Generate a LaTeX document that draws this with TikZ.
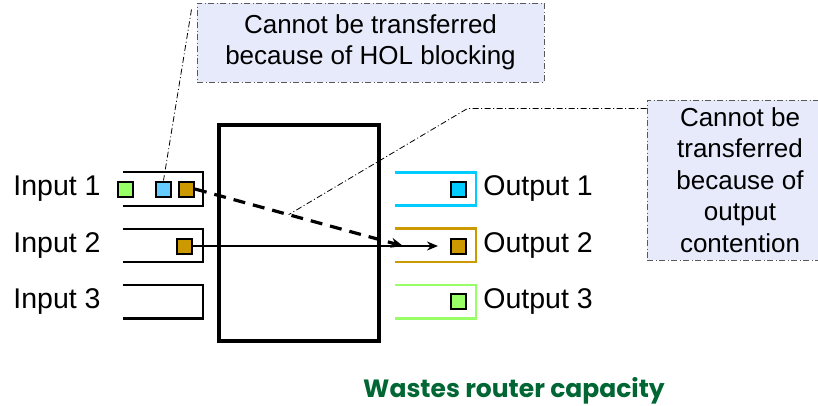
\documentclass[tikz,border=0pt]{standalone}
\usepackage{fontspec}
\setmainfont{Liberation Sans}
\newfontfamily\notefont{Poppins}
\usetikzlibrary{positioning,arrows.meta}

\definecolor{pktgreen}{HTML}{99FF66}
\definecolor{pktblue}{HTML}{66CCFF}
\definecolor{outcyan}{HTML}{00CCFF}
\definecolor{gold}{HTML}{CC9900}
\definecolor{notebg}{HTML}{E6EAFA}
\definecolor{darkgreen}{HTML}{006633}

\begin{document}
\begin{tikzpicture}[x=1pt, y=-1pt, node distance=23pt,
  queue/.style = {minimum width=80pt, minimum height=33pt, inner sep=0},
  pkt/.style = {draw, line width=2pt, minimum size=15pt, inner sep=0},
  lbl/.style = {inner sep=0, font=\fontsize{28.5}{30}\selectfont},
  dashdot/.style = {dash pattern=on 6pt off 2.5pt on 1pt off 2.5pt},
  note/.style = {draw=black!65, fill=notebg, dashdot, line width=1pt, align=center,
    inner sep=0, font=\fontsize{26}{31.5}\selectfont},
  lead/.style = {dashdot, line width=0.8pt}]

\useasboundingbox (0,0) rectangle (818,405);

% switch
\node[draw, line width=4pt, minimum width=160pt, minimum height=216pt] (sw) at (299,233) {};

% input and output queues
\node[queue] (q1) at (163,189) {};
\node[queue] (q2) [below=of q1] {};
\node[queue] (q3) [below=of q2] {};
\node[queue, minimum width=81pt] (o1) at (435.5,189) {};
\node[queue, minimum width=81pt] (o2) [below=of o1] {};
\node[queue, minimum width=81pt] (o3) [below=of o2] {};

\foreach \q in {q1,q2,q3}
  \draw[line width=2.3pt] (\q.north west) -- (\q.north east) -- (\q.south east) -- (\q.south west);
\foreach \q/\c in {o1/outcyan, o2/gold, o3/pktgreen}
  \draw[\c, line width=2.5pt] (\q.north west) -- (\q.north east) -- (\q.south east) -- (\q.south west);

\node[lbl, left=22pt of q1] {Input 1};
\node[lbl, left=22pt of q2] {Input 2};
\node[lbl, left=22pt of q3] {Input 3};
\node[lbl, right=7pt of o1] {Output 1};
\node[lbl, right=7pt of o2] {Output 2};
\node[lbl, right=7pt of o3] {Output 3};

% packets
\coordinate (dst) at (403,246);
\node[pkt, fill=pktgreen] (i1a) at (125,189) {};
\node[pkt, fill=pktblue] (i1b) at (163.5,189) {};
\node[pkt, fill=gold] (i1c) at (186.5,189) {};
\node[pkt, fill=gold] (i2) at (184,246) {};
\node[pkt, fill=outcyan] (p1) at (458.5,189) {};
\node[pkt, fill=gold] (p2) at (458.5,246) {};
\node[pkt, fill=pktgreen] (p3) at (458.5,301) {};

\draw[line width=1.8pt, -{Stealth[length=11pt, width=9pt]}, shorten >=12pt] (i2.east) -- (p2.west);
\draw[line width=3.2pt, dash pattern=on 12pt off 8pt, -{Stealth[length=12pt, width=10pt]}]
  (i1c.east) -- coordinate[pos=0.45] (mid) (dst);

% callouts
\node[note, minimum width=347pt, minimum height=79pt] (n1) at (370.5,42.5)
  {Cannot be transferred\\because of HOL blocking};
\node[note, minimum width=186pt, minimum height=160pt] (n2) at (740,180)
  {Cannot be\\transferred\\because of\\output\\contention};

\draw[lead] ([xshift=-5pt, yshift=-7pt]n1.north west) -- (i1b.north);
\draw[lead] ([yshift=-9pt]n2.north west) -- ++(-179,0) -- (mid);

\node[anchor=base, text=darkgreen, font=\notefont\bfseries\fontsize{25}{28}\selectfont] (cap) at (514,397)
  {Wastes router capacity};
\end{tikzpicture}
\end{document}
